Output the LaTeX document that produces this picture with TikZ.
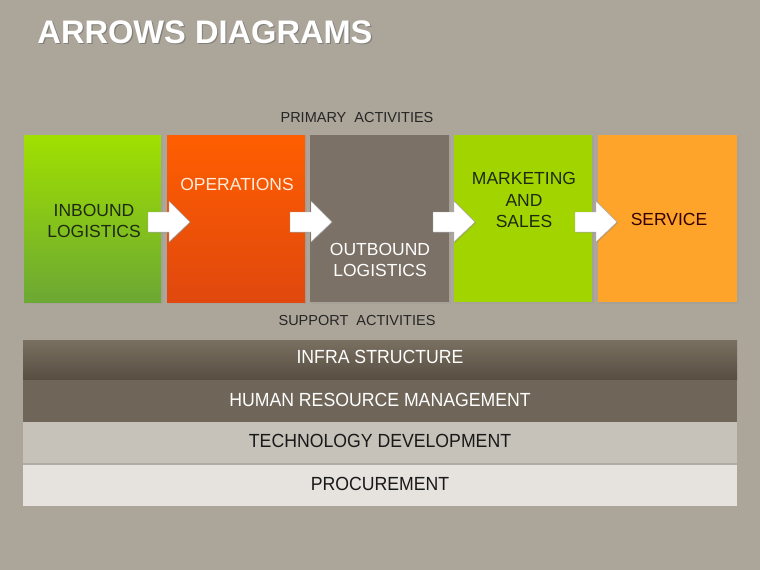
\documentclass[tikz,border=0pt]{standalone}
\usepackage{fontspec}
\setmainfont{Liberation Sans}
\newfontfamily\narrowfont[FakeStretch=0.93]{Liberation Sans}
\usetikzlibrary{shadows}
\definecolor{bg}{HTML}{ACA599}
\definecolor{gtop}{HTML}{A0E000}
\definecolor{gbot}{HTML}{6CA834}
\definecolor{otop}{HTML}{FF5E00}
\definecolor{obot}{HTML}{E0480E}
\definecolor{brn}{HTML}{7B7166}
\definecolor{grn}{HTML}{A2D400}
\definecolor{orng}{HTML}{FFA42A}
\definecolor{bartop}{HTML}{7A7062}
\definecolor{barbot}{HTML}{574D40}
\definecolor{bartwo}{HTML}{6F6659}
\definecolor{barthree}{HTML}{C6C1B9}
\definecolor{barfour}{HTML}{E6E3DE}
\definecolor{darktxt}{HTML}{1E2A12}
\begin{document}
\begin{tikzpicture}[x=1pt,y=-1pt,
  boxtxt/.style={font=\fontsize{17.5}{21.5}\selectfont, align=center},
  bartxt/.style={font=\narrowfont\fontsize{19}{22}\selectfont},
  head/.style={font=\fontsize{14.5}{17}\selectfont, text=black!85},
  blockarrow/.style={fill=white, draw=black!35, line width=0.4pt, drop shadow={shadow xshift=1pt, shadow yshift=-1pt, opacity=0.35}}
]
\useasboundingbox (0,0) rectangle (760,570);
\fill[bg] (0,0) rectangle (760,570);

% title
\node[font=\bfseries\fontsize{32.6}{36}\selectfont, text=black!60, opacity=0.6] at (206.2,33.2) {ARROWS DIAGRAMS};
\node[font=\bfseries\fontsize{32.6}{36}\selectfont, text=white] (title) at (205,32) {ARROWS DIAGRAMS};

\node[head] (prim) at (357,118) {PRIMARY\ \ ACTIVITIES};
\node[head] (supp) at (357,321) {SUPPORT\ \ ACTIVITIES};

% primary boxes
\fill[black!40, opacity=0.3] (25,136) rectangle (163,304);
\shade[top color=gtop, bottom color=gbot] (24,135) rectangle (161,302);
\fill[black!40, opacity=0.3] (168,136) rectangle (307,304);
\shade[top color=otop, bottom color=obot] (167,135) rectangle (305,302);
\fill[black!40, opacity=0.3] (311,136) rectangle (451,304);
\fill[brn] (310,135) rectangle (449,302);
\fill[black!40, opacity=0.3] (455,136) rectangle (594,304);
\fill[grn] (454,135) rectangle (592,302);
\fill[black!40, opacity=0.3] (599,136) rectangle (739,304);
\fill[orng] (598,135) rectangle (737,302);

\node[boxtxt, text=darktxt] (inb) at (94,221) {INBOUND\\LOGISTICS};
\node[boxtxt, text=orange!15] (ops) at (237,184) {OPERATIONS};
\node[boxtxt, text=white] (outb) at (380,260) {OUTBOUND\\LOGISTICS};
\node[boxtxt, text=darktxt] (mkt) at (524,200) {MARKETING\\AND\\SALES};
\node[boxtxt, text=black!80!red] (serv) at (669,219) {SERVICE};

% block arrows
\foreach \xs/\nm in {148/a1,290/a2,433/a3,575/a4}{
  \coordinate (\nm) at (\xs,222);
  \path[blockarrow] (\nm) ++(0,-10) -- ++(21,0) -- ++(0,-11) -- ++(21,21) -- ++(-21,20) -- ++(0,-10) -- ++(-21,0) -- cycle;
}

% support bars
\shade[top color=bartop, bottom color=barbot] (23,340) rectangle (737,380);
\fill[bartwo] (23,380) rectangle (737,422);
\fill[barthree] (23,422) rectangle (737,463);
\fill[black!30, opacity=0.5] (23,463) rectangle (737,465);
\fill[barfour] (23,465) rectangle (737,506);

\node[bartxt, text=white] (infra) at (380,357) {INFRA STRUCTURE};
\node[bartxt, text=white] (hrm) at (380,400) {HUMAN RESOURCE MANAGEMENT};
\node[bartxt, text=black!90] (tech) at (380,441) {TECHNOLOGY DEVELOPMENT};
\node[bartxt, text=black!90] (proc) at (380,484) {PROCUREMENT};
\end{tikzpicture}
\end{document}
